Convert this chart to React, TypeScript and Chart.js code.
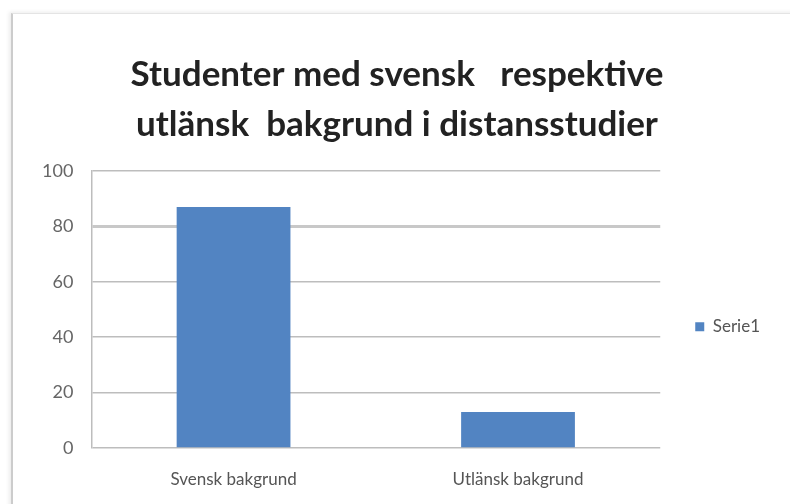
import React, { useEffect, useRef } from "react";
import { Chart, registerables } from "chart.js";

Chart.register(...registerables);

const titleLines = ["Studenter med svensk   respektive", "utlänsk  bakgrund i distansstudier"];
const categories = ["Svensk bakgrund", "Utlänsk bakgrund"];
const seriesName = "Serie1";
const seriesValues = [87, 13];
const yTicks = [0, 20, 40, 60, 80, 100];

export default function App() {
  const ref = useRef<HTMLCanvasElement | null>(null);

  useEffect(() => {
    document.body.style.margin = "0";
    const canvas = ref.current;
    if (!canvas) return;
    const chart = new Chart(canvas, {
      type: "bar",
      data: {
        labels: categories,
        datasets: [
          {
            label: seriesName,
            data: seriesValues,
            backgroundColor: "#5284c2",
            borderWidth: 0,
            barPercentage: 0.5,
            categoryPercentage: 0.8,
          },
        ],
      },
      options: {
        responsive: true,
        maintainAspectRatio: false,
        animation: false,
        layout: { padding: { left: 24, right: 20, top: 0, bottom: 15 } },
        plugins: {
          title: {
            display: true,
            text: titleLines,
            color: "#222222",
            font: { family: "Lato", size: 35, weight: "bold", lineHeight: 1.43 },
            padding: { top: 50, bottom: 21 },
          },
          legend: {
            display: true,
            position: "right",
            fullSize: false,
            labels: {
              boxWidth: 9,
              boxHeight: 9,
              padding: 35,
              color: "#555555",
              font: { family: "Lato", size: 17 },
            },
            title: { display: true, text: "", padding: { top: 0, bottom: 20 } },
          },
          tooltip: { enabled: false },
        },
        scales: {
          x: {
            grid: { display: false, drawTicks: false },
            border: { display: false },
            afterFit: (axis: any) => {
              axis.paddingLeft = 0;
              axis.paddingRight = 0;
              axis.height = 41;
            },
            ticks: {
              color: "#555555",
              font: { family: "Lato", size: 17 },
              padding: 21,
            },
          },
          y: {
            min: 0,
            max: 100,
            afterBuildTicks: (axis: any) => {
              axis.ticks = yTicks.map((v) => ({ value: v }));
            },
            grid: {
              color: (c: any) => (c.tick && c.tick.value === 80 ? "#c8c8c8" : "#bdbdbd"),
              lineWidth: (c: any) => (c.tick && c.tick.value === 80 ? 3 : 1.5),
              drawTicks: false,
            },
            border: { display: true, color: "#bdbdbd", width: 1.5 },
            ticks: {
              color: "#666666",
              font: { family: "Lato", size: 18 },
              padding: 18,
            },
          },
        },
      },
    });
    return () => chart.destroy();
  }, []);

  return (
    <div style={{ position: "relative", width: 790, height: 504, background: "#ffffff", overflow: "hidden" }}>
      <div
        style={{
          position: "absolute",
          left: 11,
          top: 13,
          right: -10,
          bottom: -10,
          borderLeft: "2px solid #cccccc",
          borderTop: "1px solid #e4e4e4",
          boxShadow: "-2px -1px 4px rgba(0,0,0,0.08)",
        }}
      />
      <canvas ref={ref} style={{ position: "absolute", left: 0, top: 0, width: 790, height: 504 }} />
    </div>
  );
}
